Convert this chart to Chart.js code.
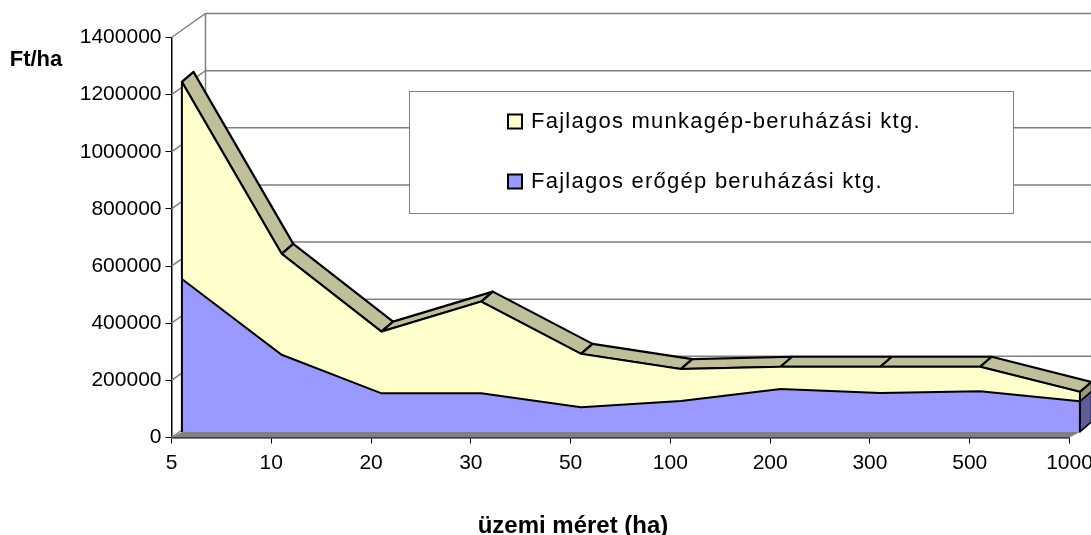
<!DOCTYPE html>
<html><head><meta charset="utf-8">
<style>html,body{margin:0;padding:0;background:#fff}#w{width:1091px;height:535px;position:relative;overflow:hidden}</style>
<script src="https://cdn.jsdelivr.net/npm/chart.js@4"></script>
</head><body><div id="w"><canvas id="c" width="1091" height="535"></canvas></div>
<script>
const categories = ['5','10','20','30','50','100','200','300','500','1000'];
const erogep = [535000,270000,135000,135000,86000,108000,150000,136000,142000,107000];
const munkagep = [690000,353000,216000,321000,187000,112000,78000,92000,86000,33000];
const yTicks = [0,200000,400000,600000,800000,1000000,1200000,1400000];
const labelMunka = 'Fajlagos munkagép-beruházási ktg.';
const labelEro = 'Fajlagos erőgép beruházási ktg.';
const yTitle = 'Ft/ha';
const xTitle = 'üzemi méret (ha)';

const FONT = '"Liberation Sans", Arial, sans-serif';
const FRONT = {x:10.4, y:-5.6};
const BAND = {x:11.6, y:-10};
const WALL = {x:34, y:-24};

const scene = {
  id:'scene',
  beforeDatasetsDraw(chart){
    const {ctx, scales:{x,y}} = chart;
    const W = chart.width;
    ctx.save();
    ctx.strokeStyle = '#808080'; ctx.lineWidth = 1.5;
    yTicks.forEach(v=>{
      const py = y.getPixelForValue(v);
      ctx.beginPath();
      ctx.moveTo(x.left, py); ctx.lineTo(x.left+WALL.x, py+WALL.y);
      ctx.lineTo(W+40, py+WALL.y);
      ctx.stroke();
    });
    ctx.beginPath();
    ctx.moveTo(x.left+WALL.x, y.getPixelForValue(1400000)+WALL.y);
    ctx.lineTo(x.left+WALL.x, y.getPixelForValue(0)+WALL.y);
    ctx.stroke();
    const x0 = x.getPixelForValue(0), xn = x.getPixelForValue(categories.length-1), y0 = y.getPixelForValue(0);
    ctx.fillStyle = '#808080';
    ctx.beginPath();
    ctx.moveTo(x0,y0); ctx.lineTo(xn,y0); ctx.lineTo(xn+FRONT.x,y0+FRONT.y); ctx.lineTo(x0+FRONT.x,y0+FRONT.y);
    ctx.closePath(); ctx.fill();

    ctx.translate(FRONT.x, FRONT.y);
    const total = munkagep.map((m,i)=>m+erogep[i]);
    const n = categories.length-1;
    const px = i=>x.getPixelForValue(i), py = v=>y.getPixelForValue(v);
    ctx.lineJoin='round';
    ctx.strokeStyle='#000'; ctx.lineWidth=1.5;
    ctx.fillStyle='#5c5c99';
    ctx.beginPath();
    ctx.moveTo(px(n),py(0)); ctx.lineTo(px(n),py(erogep[n])); ctx.lineTo(px(n)+BAND.x,py(erogep[n])+BAND.y); ctx.lineTo(px(n)+BAND.x,py(0)+BAND.y);
    ctx.closePath(); ctx.fill(); ctx.stroke();
    ctx.fillStyle='#99997a';
    ctx.beginPath();
    ctx.moveTo(px(n),py(erogep[n])); ctx.lineTo(px(n),py(total[n])); ctx.lineTo(px(n)+BAND.x,py(total[n])+BAND.y); ctx.lineTo(px(n)+BAND.x,py(erogep[n])+BAND.y);
    ctx.closePath(); ctx.fill(); ctx.stroke();
    ctx.fillStyle='#bfbf99'; ctx.lineWidth=2.2;
    for(let i=0;i<n;i++){
      ctx.beginPath();
      ctx.moveTo(px(i),py(total[i])); ctx.lineTo(px(i+1),py(total[i+1]));
      ctx.lineTo(px(i+1)+BAND.x,py(total[i+1])+BAND.y); ctx.lineTo(px(i)+BAND.x,py(total[i])+BAND.y);
      ctx.closePath(); ctx.fill(); ctx.stroke();
    }
  },
  afterDatasetsDraw(chart){
    const {ctx, scales:{x,y}} = chart;
    const n = categories.length-1;
    ctx.strokeStyle='#000'; ctx.lineWidth=2;
    const t0 = munkagep[0]+erogep[0], tn = munkagep[n]+erogep[n];
    ctx.beginPath();
    ctx.moveTo(x.getPixelForValue(0),y.getPixelForValue(0)); ctx.lineTo(x.getPixelForValue(0),y.getPixelForValue(t0));
    ctx.moveTo(x.getPixelForValue(n),y.getPixelForValue(0)); ctx.lineTo(x.getPixelForValue(n),y.getPixelForValue(tn));
    ctx.stroke();
    ctx.restore();
    ctx.save();
    ctx.fillStyle='#fff'; ctx.strokeStyle='#808080'; ctx.lineWidth=1;
    ctx.fillRect(409.5,91.5,604,122); ctx.strokeRect(409.5,91.5,604,122);
    const rows=[[labelMunka,'#ffffcc',120],[labelEro,'#9999ff',180]];
    ctx.font='22px '+FONT; ctx.textBaseline='alphabetic'; ctx.textAlign='left';
    rows.forEach(([t,c,yy])=>{
      ctx.fillStyle=c; ctx.strokeStyle='#000'; ctx.lineWidth=2;
      ctx.fillRect(508,yy-5.5,14,14); ctx.strokeRect(508,yy-5.5,14,14);
      ctx.fillStyle='#000';
      if('letterSpacing' in ctx) ctx.letterSpacing='1.25px';
      ctx.fillText(t,531,yy+7.7);
    });
    if('letterSpacing' in ctx) ctx.letterSpacing='0px';
    ctx.textAlign='center';
    ctx.font='bold 22px '+FONT;
    ctx.fillText(yTitle,36,66);
    ctx.font='bold 24px '+FONT;
    ctx.fillText(xTitle,573,532.5);
    ctx.restore();
  }
};

new Chart(document.getElementById('c'),{
  type:'line',
  data:{labels:categories,datasets:[
    {label:labelEro,data:erogep,backgroundColor:'#9999ff',borderColor:'#000',borderWidth:2,fill:'origin',pointRadius:0,tension:0,clip:false,stack:'a'},
    {label:labelMunka,data:munkagep,backgroundColor:'#ffffcc',borderColor:'#000',borderWidth:2,fill:'-1',pointRadius:0,tension:0,clip:false,stack:'a'}
  ]},
  options:{
    responsive:false,animation:false,
    layout:{padding:{left:0,top:37.5,right:21.5,bottom:0}},
    plugins:{legend:{display:false},tooltip:{enabled:false},title:{display:false}},
    scales:{
      x:{
        offset:false,
        grid:{drawOnChartArea:false,drawTicks:true,tickLength:6,color:'#000'},
        border:{color:'#000',width:1.5},
        ticks:{color:'#000',font:{family:FONT,size:21},maxRotation:0,autoSkip:false,padding:7},
        afterFit(s){s.height=97.5;s.paddingLeft=0;s.paddingRight=0;}
      },
      y:{
        stacked:true,min:0,max:1400000,
        afterBuildTicks(s){s.ticks=yTicks.map(v=>({value:v}));},
        grid:{drawOnChartArea:false,drawTicks:true,tickLength:6,color:'#000'},
        border:{color:'#000',width:1.5},
        ticks:{color:'#000',font:{family:FONT,size:21},padding:4,callback:v=>String(v)},
        afterFit(s){s.width=171.5;}
      }
    }
  },
  plugins:[scene]
});
</script></body></html>
